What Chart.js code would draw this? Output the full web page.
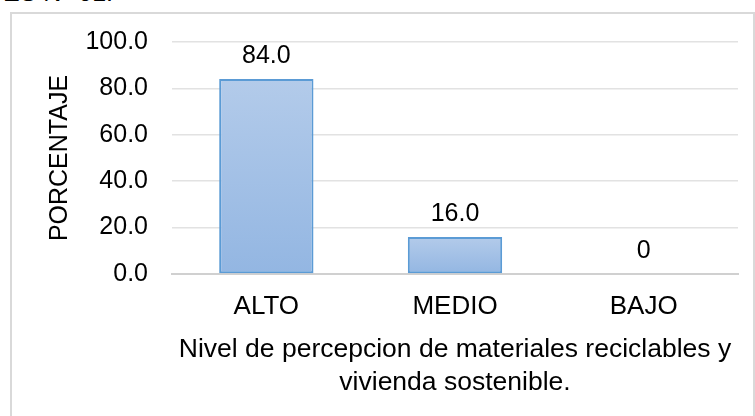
<!DOCTYPE html>
<html>
<head>
<meta charset="utf-8">
<script src="https://cdn.jsdelivr.net/npm/chart.js@4"></script>
<style>
  html, body { margin: 0; padding: 0; background: #fff; overflow: hidden; }
  #wrap { position: relative; width: 755px; height: 416px; overflow: hidden; }
  #frame { position: absolute; left: 10px; top: 12px; width: 745px; height: 420px; box-sizing: border-box; border: 2px solid #d9d9d9; }
  #caption { position: absolute; left: 0; top: -20px; width: 113px; text-align: right; font: 25px/25px "Liberation Sans", Arial, sans-serif; color: #000; white-space: nowrap; }
  #box { position: absolute; left: 0; top: 0; width: 755px; height: 416px; }
</style>
</head>
<body>
<div id="wrap">
  <div id="caption">ES N° 01.</div>
  <div id="frame"></div>
  <div id="box"><canvas id="chart"></canvas></div>
</div>
<script>
const categories = ['ALTO', 'MEDIO', 'BAJO'];
const porcentajes = [84.0, 16.0, 0];
const yTicks = [0, 20, 40, 60, 80, 100];
const yTitle = 'PORCENTAJE';
const xTitle = ['Nivel de percepcion de materiales reciclables y', 'vivienda sostenible.'];

const family = '"Liberation Sans", Arial, sans-serif';

// etiquetas encima de cada barra
const barLabels = {
    id: 'barLabels',
    afterDatasetsDraw(chart) {
        const ctx = chart.ctx;
        const meta = chart.getDatasetMeta(0);
        ctx.save();
        ctx.font = '25px ' + family;
        ctx.fillStyle = '#000';
        ctx.textAlign = 'center';
        ctx.textBaseline = 'alphabetic';
        meta.data.forEach((bar, i) => {
            const v = porcentajes[i];
            ctx.fillText(v === 0 ? '0' : v.toFixed(1), bar.x, bar.y - 16);
        });
        ctx.restore();
    }
};

// degradado vertical por barra
const barFill = (context) => {
    const chart = context.chart;
    const y = chart.scales.y;
    if (!y || context.dataIndex === undefined) return '#a3c0e6';
    const top = y.getPixelForValue(porcentajes[context.dataIndex]);
    const base = y.getPixelForValue(0);
    if (!(base - top > 1)) return '#a3c0e6';
    const g = chart.ctx.createLinearGradient(0, top, 0, base);
    g.addColorStop(0, '#b3cbea');
    g.addColorStop(1, '#93b6e2');
    return g;
};

new Chart(document.getElementById('chart'), {
    type: 'bar',
    data: {
        labels: categories,
        datasets: [{
            data: porcentajes,
            backgroundColor: barFill,
            borderColor: '#5b9bd5',
            borderWidth: 2,
            borderSkipped: false,
            categoryPercentage: 1,
            barPercentage: 0.5
        }]
    },
    plugins: [barLabels],
    options: {
        responsive: true,
        maintainAspectRatio: false,
        animation: false,
        layout: { padding: { left: 0, right: 17, top: 42, bottom: 0 } },
        plugins: {
            legend: { display: false },
            tooltip: { enabled: false }
        },
        scales: {
            x: {
                grid: { display: false, drawTicks: false },
                border: { display: true, color: '#d0d0d0', width: 2 },
                ticks: { color: '#000', font: { family: family, size: 26 }, padding: 17 },
                title: {
                    display: true,
                    text: xTitle,
                    color: '#000',
                    font: { family: family, size: 26.5, lineHeight: 1.25 },
                    padding: { top: 0, bottom: 16.5 }
                },
                afterFit: s => { s.height = 142; }
            },
            y: {
                min: 0,
                max: 100,
                afterBuildTicks: s => { s.ticks = yTicks.map(v => ({ value: v })); },
                grid: { color: '#e2e2e2', lineWidth: 1.5, drawTicks: false },
                border: { display: false },
                ticks: {
                    color: '#000',
                    font: { family: family, size: 25 },
                    padding: 24,
                    callback: v => Number(v).toFixed(1)
                },
                title: {
                    display: true,
                    text: yTitle,
                    color: '#000',
                    font: { family: family, size: 25 },
                    padding: { top: 45, bottom: 0 }
                },
                afterFit: s => { s.width = 172; }
            }
        }
    }
});
</script>
</body>
</html>
